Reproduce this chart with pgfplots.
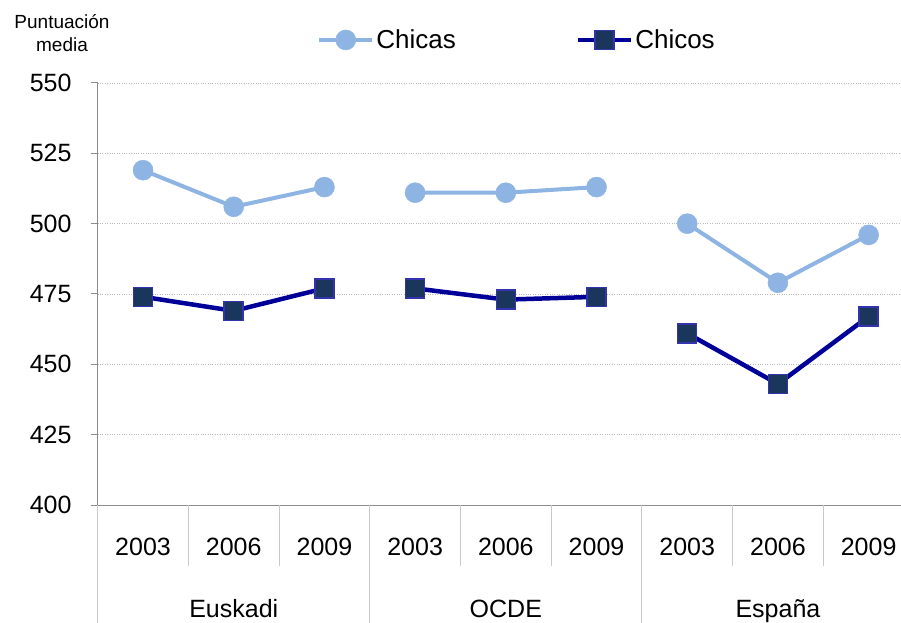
\documentclass[border=0pt]{standalone}
\usepackage{pgfplots}
\pgfplotsset{compat=1.18}
\usepackage{fontspec}
\setmainfont{Liberation Sans}
\definecolor{chicas}{HTML}{8DB4E2}
\definecolor{chicosline}{HTML}{000099}
\definecolor{chicosfill}{HTML}{1B365D}
\definecolor{axisgray}{HTML}{8C8C8C}
\definecolor{divgray}{HTML}{C8C8C8}
\begin{document}
\begin{tikzpicture}
\begin{axis}[name=ax,
  scale only axis, width=803.3bp, height=422bp,
  xmin=-0.5, xmax=8.357, ymin=400, ymax=550,
  ytick={400,425,...,550},
  xtick={0,...,8},
  xticklabels={2003,2006,2009,2003,2006,2009,2003,2006,2009},
  axis x line=bottom, axis y line=left,
  axis line style={draw=axisgray, line width=1bp, -},
  tick align=outside, major tick length=7bp,
  ytick style={draw=axisgray, line width=1bp},
  xtick style={draw=none},
  ymajorgrids, major grid style={draw=gray!55, dotted, line width=0.9bp},
  /pgf/number format/assume math mode=true,
  yticklabel style={font=\fontsize{25bp}{30bp}\selectfont, inner sep=0pt, anchor=east, xshift=-19bp},
  xticklabel style={font=\fontsize{25bp}{30bp}\selectfont, inner sep=0pt, anchor=base, yshift=-43bp},
  clip=false,
  legend columns=2,
  legend style={at={(0.522,1.102)}, anchor=center, draw=none, fill=none,
    font=\fontsize{26bp}{30bp}\selectfont,
    /tikz/every even column/.append style={column sep=118bp},
    nodes={inner sep=2bp}},
  legend image code/.code={\draw[#1, mark repeat=2, mark phase=2] plot coordinates {(0bp,0bp) (26.5bp,0bp) (53bp,0bp)};},
]
\addplot[chicas, line width=4bp, mark=*, mark size=10bp, mark options={solid, fill=chicas, draw=chicas, line width=0.5bp}] coordinates {(0,519) (1,506) (2,513)};
\addlegendentry{Chicas}
\addplot[chicosline, line width=4.5bp, mark=square*, mark size=9.5bp, mark options={solid, fill=chicosfill, draw=chicosline!80!white, line width=1.5bp}] coordinates {(0,474) (1,469) (2,477)};
\addlegendentry{Chicos}
\addplot[forget plot, chicas, line width=4bp, mark=*, mark size=10bp, mark options={solid, fill=chicas, draw=chicas, line width=0.5bp}] coordinates {(3,511) (4,511) (5,513)};
\addplot[forget plot, chicas, line width=4bp, mark=*, mark size=10bp, mark options={solid, fill=chicas, draw=chicas, line width=0.5bp}] coordinates {(6,500) (7,479) (8,496)};
\addplot[forget plot, chicosline, line width=4.5bp, mark=square*, mark size=9.5bp, mark options={solid, fill=chicosfill, draw=chicosline!80!white, line width=1.5bp}] coordinates {(3,477) (4,473) (5,474)};
\addplot[forget plot, chicosline, line width=4.5bp, mark=square*, mark size=9.5bp, mark options={solid, fill=chicosfill, draw=chicosline!80!white, line width=1.5bp}] coordinates {(6,461) (7,443) (8,467)};
\draw[divgray, line width=1bp] (axis cs:0.5,400) -- ++(0bp,-61bp);
\draw[divgray, line width=1bp] (axis cs:1.5,400) -- ++(0bp,-61bp);
\draw[divgray, line width=1bp] (axis cs:3.5,400) -- ++(0bp,-61bp);
\draw[divgray, line width=1bp] (axis cs:4.5,400) -- ++(0bp,-61bp);
\draw[divgray, line width=1bp] (axis cs:6.5,400) -- ++(0bp,-61bp);
\draw[divgray, line width=1bp] (axis cs:7.5,400) -- ++(0bp,-61bp);
\draw[divgray, line width=1bp] (axis cs:-0.5,400) -- ++(0bp,-118bp);
\draw[divgray, line width=1bp] (axis cs:2.5,400) -- ++(0bp,-118bp);
\draw[divgray, line width=1bp] (axis cs:5.5,400) -- ++(0bp,-118bp);
\node[anchor=base, font=\fontsize{25bp}{30bp}\selectfont, yshift=-112bp] at (axis cs:1,400) {Euskadi};
\node[anchor=base, font=\fontsize{25bp}{30bp}\selectfont, yshift=-112bp] at (axis cs:4,400) {OCDE};
\node[anchor=base, font=\fontsize{25bp}{30bp}\selectfont, yshift=-112bp] at (axis cs:7,400) {España};
\node[anchor=base, font=\fontsize{19bp}{23bp}\selectfont, inner sep=0pt, xshift=-35.7bp, yshift=54bp] at (rel axis cs:0,1) {Puntuación};
\node[anchor=base, font=\fontsize{19bp}{23bp}\selectfont, inner sep=0pt, xshift=-35.7bp, yshift=31bp] at (rel axis cs:0,1) {media};
\end{axis}
\pgfresetboundingbox
\path (ax.south west) ++(-97.7bp,-118bp) rectangle ++(901bp,623bp);
\end{tikzpicture}
\end{document}
